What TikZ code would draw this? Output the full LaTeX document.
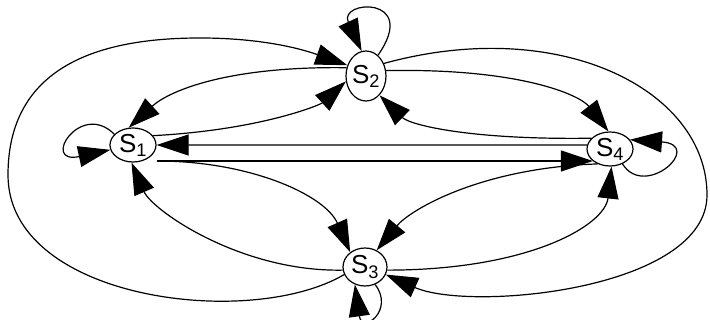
\documentclass[tikz,border=0pt]{standalone}
\usepackage{fontspec}
\setmainfont{Liberation Sans}
\usetikzlibrary{arrows.meta,shapes.geometric}

\begin{document}
\begin{tikzpicture}[x=1pt,y=-1pt,>={Triangle[length=32pt,width=21pt]},line width=1.2pt,
  state/.style={ellipse,draw,inner sep=0pt,font=\fontsize{26}{26}\selectfont}]
 \useasboundingbox (0,0) rectangle (710,320);
 \node[state,minimum width=46pt,minimum height=34pt] (s1) at (133,145) {S\textsubscript{1}};
 \node[state,minimum width=40pt,minimum height=50pt] (s2) at (366,76) {S\textsubscript{2}};
 \node[state,minimum width=44pt,minimum height=38pt] (s3) at (365,267) {S\textsubscript{3}};
 \node[state,minimum width=46pt,minimum height=34pt] (s4) at (610,149) {S\textsubscript{4}};
 \coordinate (s1o) at ([shift={(24,16)}]s1.center);
 \draw[->] (s1.150) .. controls (80,100) and (40,165) .. (s1.192);
 \draw[->] (s2.60) .. controls (420,-5) and (338,0) .. (s2.100);
 \draw[->] (s4.-50) .. controls (645,200) and (705,145) .. (s4.25);
 \draw[->] (s3.-60) .. controls (395,310) and (362,335) .. (s3.-120);
 \draw[->] (s1.25) .. controls (260,130) and (320,105) .. (s2.195);
 \draw[->] (s2.157) .. controls (230,66) and (170,90) .. (s1.104);
 \draw[->] (s2.15) .. controls (520,68) and (580,95) .. (s4.95);
 \draw[->] (s4.150) .. controls (470,140) and (410,125) .. (s2.-55);
 \draw[->] (s4.170) -- (s1.east);
 \draw[->] (s1o) -- (s1o -| s4.215);
 \draw[->] (s1o) .. controls (250,161) and (325,195) .. (s3.135);
 \draw[->] (s3.188) .. controls (240,272) and (152,210) .. (s1.-95);
 \draw[->] (s4.-130) .. controls (480,168) and (410,210) .. (s3.55);
 \draw[->] (s3.-8) .. controls (530,270) and (605,225) .. (s4.-85);
 \draw[->] (s2.35) .. controls (560,15) and (707,90) .. (707,195)
   .. controls (707,290) and (470,312) .. (s3.-20);
 \draw[->] (s3.200) .. controls (250,330) and (8,300) .. (8,175)
   .. controls (8,60) and (110,38) .. (200,38)
   .. controls (270,38) and (310,52) .. (s2.150);
\end{tikzpicture}
\end{document}
